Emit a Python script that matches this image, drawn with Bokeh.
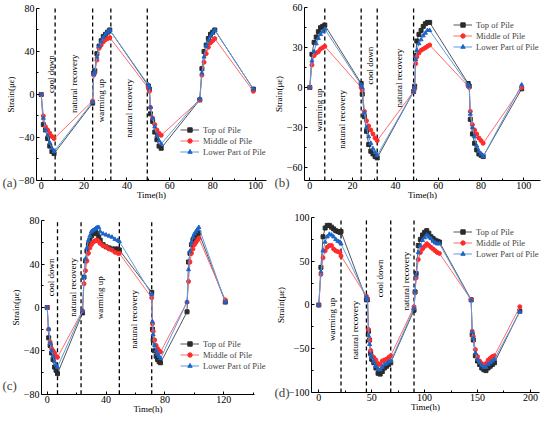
import math
from bokeh.plotting import figure
from bokeh.layouts import column, row
from bokeh.models import Label, Legend, LegendItem, Range1d, FixedTicker, ColumnDataSource
from bokeh.core.properties import value
from bokeh.embed import file_html
from bokeh.resources import INLINE

FONT = "Liberation Serif"
SERIES = ["Top of Pile", "Middle of Pile", "Lower Part of Pile"]

# ---------------- data: panel (a) ----------------
a_time = [0, 1, 2, 3, 4, 5, 6, 24, 24.5, 25, 26, 27, 28, 29, 30, 31, 32,
          50, 50.5, 51, 52, 53, 54, 55, 56, 74, 75, 76, 77, 78, 79, 80, 81, 99]
a_top = [0, -28, -33, -41, -48, -53, -55, -8, 20, 22, 38, 45, 50, 54, 56, 58, 60,
         8, 5, -18, -25, -35, -42, -48, -50, -5, 24, 40, 46, 52, 56, 58, 60, 5]
a_mid = [0, -20, -30, -33, -36, -39, -41, -6, 18, 20, 32, 43, 46, 49, 51, 52, 53,
         6, 3, -12, -22, -28, -33, -36, -38, -5, 18, 30, 38, 44, 48, 50, 52, 3]
a_low = [0, -22, -33, -38, -45, -50, -53, -7, 19, 21, 35, 45, 49, 53, 56, 58, 60,
         9, 6, -12, -22, -30, -38, -43, -46, -4, 20, 35, 45, 50, 54, 57, 60, 5]
a_dash = [6.5, 24, 32.5, 49.5]
a_xticks = [0, 20, 40, 60, 80, 100]
a_xminor = [10, 30, 50, 70, 90]
a_yticks = [-80, -40, 0, 40, 80]
a_yminor = [-60, -20, 20, 60]

# ---------------- data: panel (b) ----------------
b_time = [0, 1, 2, 3, 4, 5, 6, 7,
          24, 24.5, 25.5, 26.5, 27.5, 28.5, 29.5, 30.5, 31.5,
          48.5, 49, 49.5, 50, 51, 52, 53, 54, 55, 56,
          74, 74.5, 75, 76, 77, 78, 79, 80, 81, 99]
b_top = [0, 25, 34, 38, 42, 45, 46, 47,
         3, -5, -22, -33, -43, -48, -50, -52, -53,
         -3, 1, 24, 35, 40, 43, 46, 48, 49, 49,
         3, 1, -24, -35, -42, -47, -50, -51, -52, -1]
b_mid = [0, 17, 24, 26, 27, 29, 30, 31,
         0, -2, -18, -25, -29, -32, -35, -38, -40,
         -3, -1, 18, 23, 26, 28, 29, 30, 31, 32,
         1, 0, -18, -28, -32, -35, -38, -40, -42, 0]
b_low = [0, 20, 27, 33, 37, 40, 42, 44,
         2, 0, -19, -30, -37, -42, -46, -49, -51,
         -3, 0, 21, 28, 33, 36, 39, 41, 43, 43,
         2, 1, -20, -30, -37, -44, -48, -50, -52, 2]
b_dash = [7, 24, 31.5, 48.5]
b_xticks = [0, 20, 40, 60, 80, 100]
b_xminor = [10, 30, 50, 70, 90]
b_yticks = [-60, -30, 0, 30, 60]
b_yminor = [-45, -15, 15, 45]

# ---------------- data: panel (c) ----------------
c_time = [0, 1, 2, 3, 4, 5, 6, 7,
          24, 25, 26, 27, 28, 29, 30, 31, 32, 33, 34, 35, 36, 38, 40, 42, 44, 46, 48, 49,
          71, 71.5, 72, 73, 74, 75, 76, 77,
          95, 96, 97, 98, 99, 100, 101, 102, 103, 121]
c_top = [0, -28, -35, -42, -48, -55, -58, -61,
         -5, 28, 43, 52, 58, 62, 66, 68, 69, 70, 68, 65, 62, 58, 56, 55, 54, 54, 54, 53,
         14, -20, -30, -40, -45, -48, -50, -51,
         -4, 42, 50, 58, 62, 64, 66, 68, 69, 5]
c_mid = [0, -20, -32, -38, -40, -42, -45, -46,
         -3, 22, 34, 43, 50, 55, 58, 60, 61, 62, 62, 61, 59, 57, 56, 54, 53, 51, 50, 50,
         9, -15, -22, -30, -35, -38, -40, -41,
         5, 24, 42, 50, 54, 58, 60, 62, 64, 7]
c_low = [0, -20, -33, -40, -45, -50, -53, -55,
         -3, 28, 45, 55, 62, 66, 70, 71, 72, 73, 74, 74, 70, 68, 67, 66, 65, 63, 62, 61,
         12, -13, -25, -35, -40, -43, -45, -47,
         5, 35, 52, 60, 65, 68, 70, 72, 74, 5]
c_dash = [7, 23, 49, 71]
c_xticks = [0, 40, 80, 120]
c_xminor = [20, 60, 100, 140]
c_yticks = [-80, -40, 0, 40, 80]
c_yminor = [-60, -20, 20, 60]

# ---------------- data: panel (d) ----------------
d_time = [0, 2, 4, 6, 8, 10, 12, 14, 16, 18, 20, 21,
          45, 46, 47, 48, 49, 50, 52, 54, 56, 58, 60, 62, 64, 66, 68,
          90, 91, 92, 94, 96, 98, 100, 102, 104, 106, 108, 110, 112, 114,
          144, 145, 146, 148, 150, 152, 154, 156, 158, 160, 162, 164, 166, 190]
d_top = [0, 43, 78, 88, 91, 91, 89, 87, 85, 84, 83, 84,
         6, 6, -30, -40, -55, -62, -66, -72, -78, -79, -76, -72, -70, -68, -66,
         -6, 15, 36, 68, 75, 80, 83, 85, 82, 78, 76, 74, 73, 72,
         6, -34, -40, -58, -64, -68, -72, -74, -75, -72, -70, -68, -66, -7]
d_mid = [0, 35, 54, 62, 66, 68, 68, 64, 62, 61, 60, 56,
         10, 7, -28, -40, -52, -58, -60, -63, -67, -68, -64, -63, -62, -60, -58,
         -2, 14, 31, 52, 60, 64, 67, 70, 68, 66, 64, 62, 60, 59,
         6, -30, -36, -51, -59, -64, -67, -70, -67, -63, -61, -59, -58, -2]
d_low = [0, 38, 62, 72, 78, 81, 80, 78, 75, 73, 72, 70,
         9, 6, -35, -45, -57, -60, -65, -70, -73, -74, -71, -68, -67, -65, -64,
         -4, 15, 34, 60, 68, 74, 77, 80, 78, 76, 73, 71, 70, 70,
         5, -31, -38, -55, -62, -66, -69, -71, -71, -68, -66, -64, -62, -8]
d_dash = [21, 45, 68, 90]
d_xticks = [0, 50, 100, 150, 200]
d_xminor = [25, 75, 125, 175]
d_yticks = [-100, -50, 0, 50, 100]
d_yminor = [-75, -25, 25, 75]

# phase annotations (text, x, y) in data units
a_phases = [("cool down", 4.4, 19), ("natural recovery", 15.5, 10),
            ("warming up", 28, -5.6), ("natural recovery", 41, -13)]
b_phases = [("warming up", 4.2, -17), ("natural recovery", 15, -24),
            ("cool down", 28.3, 16.5), ("natural recovery", 41.6, 7)]
c_phases = [("cool down", 2.3, 27.7), ("natural recovery", 17.6, 18.5),
            ("warming up", 36, 9), ("natural recovery", 58.8, -11)]
d_phases = [("warming up", 12.6, -16.4), ("natural recovery", 34.6, -28.6),
            ("cool down", 58.3, 30.5), ("natural recovery", 82, 27.4)]

LINE_COLORS = ["#555555", "#ff6b6b", "#5b9be0"]
MARK_COLORS = ["#2b2b2b", "#ff2a2a", "#1c64c8"]
MARKERS = ["square", "circle", "triangle"]


def make_panel(tag, t, ys, dashes, phases, view_x, view_y, xb, yb,
               xticks, xminor, yticks, yminor, width, height, legend_xy, tag_xy):
    p = figure(width=width, height=height, output_backend="svg", toolbar_location=None,
               title=None, x_range=Range1d(*view_x), y_range=Range1d(*view_y),
               min_border=0)
    p.outline_line_color = None
    p.xgrid.visible = False
    p.ygrid.visible = False
    p.background_fill_color = "white"
    p.border_fill_color = "white"
    p.xaxis.ticker = FixedTicker(ticks=xticks, minor_ticks=xminor)
    p.yaxis.ticker = FixedTicker(ticks=yticks, minor_ticks=yminor)
    p.xaxis.bounds = xb
    p.yaxis.bounds = yb
    p.xaxis.fixed_location = yb[0]
    p.yaxis.fixed_location = xb[0]
    for ax in (p.xaxis[0], p.yaxis[0]):
        ax.major_tick_in = 3
        ax.major_tick_out = 0
        ax.minor_tick_in = 2
        ax.minor_tick_out = 0
        ax.major_label_standoff = 2
        ax.major_label_text_font = FONT
        ax.major_label_text_font_size = "10px"
        ax.major_label_text_color = "black"
        ax.axis_label_text_font = FONT
        ax.axis_label_text_font_size = "9px"
        ax.axis_label_text_font_style = "normal"
        ax.axis_label_text_color = "black"
        ax.axis_line_color = "black"
        ax.major_tick_line_color = "black"
        ax.minor_tick_line_color = "black"
    p.xaxis.axis_label_standoff = -3
    p.yaxis.axis_label_standoff = 0
    p.xaxis.axis_label = "Time(h)"
    p.yaxis.axis_label = "Strain(με)"

    n = len(dashes)
    p.segment(x0=dashes, y0=[yb[0]] * n, x1=dashes, y1=[yb[1]] * n,
              line_color="black", line_dash="4 3", line_width=1.3)

    items = []
    for i, (name, y) in enumerate(zip(SERIES, ys)):
        src = ColumnDataSource(dict(x=t, y=y))
        r1 = p.line("x", "y", source=src, line_color=LINE_COLORS[i], line_width=1)
        r2 = p.scatter("x", "y", source=src, marker=MARKERS[i], size=4,
                       fill_color=MARK_COLORS[i], line_color=MARK_COLORS[i])
        items.append(LegendItem(label=name, renderers=[r1, r2]))

    psrc = ColumnDataSource(dict(x=[ph[1] for ph in phases], y=[ph[2] for ph in phases],
                                 text=[ph[0] for ph in phases]))
    p.text("x", "y", text="text", source=psrc, angle=math.pi / 2,
           text_align="center", text_baseline="middle",
           text_font=value(FONT), text_font_size="9px", text_color="black")

    leg = Legend(items=items, location=legend_xy, padding=2, margin=0, spacing=0,
                 label_height=11, glyph_height=11, glyph_width=19, label_standoff=4,
                 label_text_font=FONT, label_text_font_size="8.5px",
                 border_line_color=None, background_fill_alpha=0)
    p.add_layout(leg)

    p.add_layout(Label(x=tag_xy[0], y=tag_xy[1], x_units="screen", y_units="screen",
                       text=tag, text_font=FONT, text_font_size="13px",
                       text_baseline="middle", text_align="left"))
    return p


pa = make_panel("(a)", a_time, [a_top, a_mid, a_low], a_dash, a_phases,
                (-18.99, 108.87), (-108.84, 87.44), (-2.2, 105), (-80, 80),
                a_xticks, a_xminor, a_yticks, a_yminor, 274, 211, (180, 54), (2, 29))
pb = make_panel("(b)", b_time, [b_top, b_mid, b_low], b_dash, b_phases,
                (-16.50, 111.54), (-93.37, 65.51), (-2.5, 108), (-70, 60),
                b_xticks, b_xminor, b_yticks, b_yminor, 274, 211, (179, 159), (0, 29))
pc = make_panel("(c)", c_time, [c_top, c_mid, c_low], c_dash, c_phases,
                (-31.73, 154.42), (-106.11, 88.58), (-3.9, 141), (-80, 80),
                c_xticks, c_xminor, c_yticks, c_yminor, 274, 211, (180, 51), (2, 37))
pd_ = make_panel("(d)", d_time, [d_top, d_mid, d_low], d_dash, d_phases,
                 (-41.87, 217.1), (-134.29, 106.86), (-6.9, 209), (-100, 100),
                 d_xticks, d_xminor, d_yticks, d_yminor, 274, 211, (179, 163), (0, 30))

layout = column(row(pa, pb), row(pc, pd_))
open("out.html", "w").write(file_html(layout, INLINE))
